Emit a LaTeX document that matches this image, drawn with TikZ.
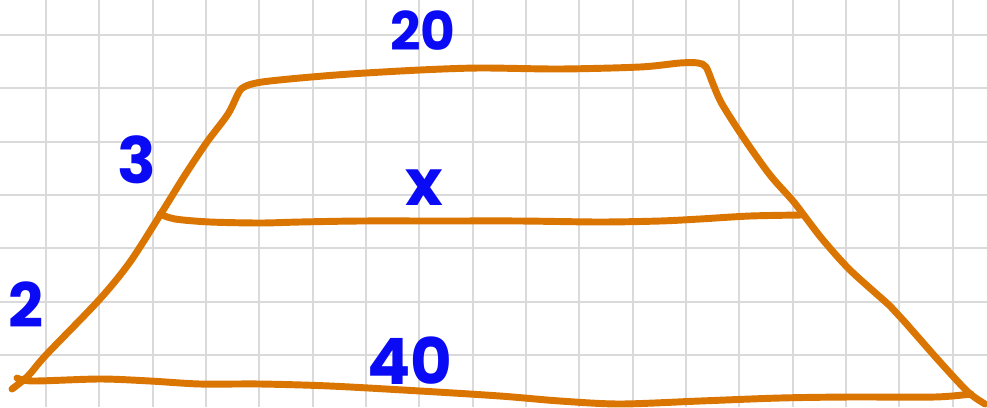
\documentclass[tikz,border=0pt]{standalone}
\usepackage{fontspec}
\setmainfont{Poppins}
\definecolor{gridgray}{RGB}{218,218,218}
\definecolor{trapor}{RGB}{217,117,0}
\definecolor{penblue}{RGB}{10,10,245}
\tikzset{
  gridline/.style={gridgray, line width=1.5pt},
  penline/.style={trapor, line width=5.2pt, line cap=round, line join=round},
  lbl/.style={penblue, inner sep=0pt, font=\fontsize{#1}{#1}\selectfont\bfseries}
}
\begin{document}
\begin{tikzpicture}[x=0.75pt,y=-0.75pt]
\useasboundingbox (0,0) rectangle (987,407);
\fill[white] (0,0) rectangle (987,407);
% grid
\foreach \k in {0,...,17} \draw[gridline] ({46+53.333*\k},0) -- ({46+53.333*\k},407);
\foreach \k in {0,...,6} \draw[gridline] (0,{35+53.333*\k}) -- (987,{35+53.333*\k});
% left side, top edge, right side
\draw[penline] plot[smooth, tension=0.5] coordinates {(12,389) (28,376) (46,355) (99,300) (130,262) (162,212) (185,175) (207,142) (228,114) (239,92) (246,86) (262,82) (300,78) (350,74) (420,70) (480,68) (560,69) (640,67) (680,63) (698,63) (706,67) (713,84) (722,104) (745,140) (770,175) (793,201) (806,218) (823,240) (850,270) (890,306) (903,320) (940,362) (968,392) (985,404)};
% middle line
\draw[penline] plot[smooth, tension=0.5] coordinates {(160,214) (175,219) (210,222) (260,223) (300,222) (360,221) (440,221) (520,221) (600,222) (660,221) (700,219) (750,216) (802,215)};
% bottom edge
\draw[penline] plot[smooth, tension=0.5] coordinates {(17,378) (33,381) (100,379) (150,381) (200,384) (260,384) (330,386) (420,391) (500,396) (560,401) (620,404) (700,401) (780,398) (850,397) (935,397) (971,394)};
% labels
\node[lbl=40] (t20) at (423,31) {20};
\node[lbl=48] (t3) at (137,160) {3};
\node[lbl=48] (tx) at (424,188) {x};
\node[lbl=46] (t2) at (26,305) {2};
\node[lbl=48] (t40) at (410,361) {40};
\end{tikzpicture}
\end{document}
